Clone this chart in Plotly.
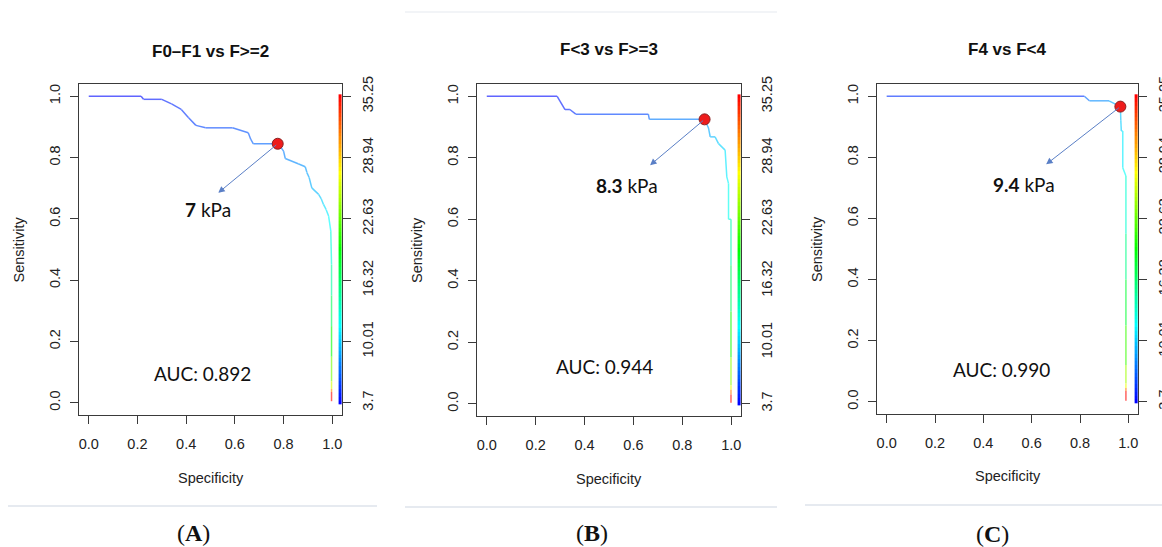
import plotly.graph_objects as go
from plotly.colors import sample_colorscale, unlabel_rgb

# ---------------- data ----------------
titles = ["F0\u2013F1 vs F>=2", "F<3 vs F>=3", "F4 vs F<4"]
panel_labels = ["A", "B", "C"]
auc_values = ["0.892", "0.944", "0.990"]
cutoffs = ["7", "8.3", "9.4"]

# ROC curve A (specificity, sensitivity, threshold kPa)
spec_a = [0.00, 0.215, 0.225, 0.30, 0.34, 0.38, 0.41, 0.44, 0.48, 0.59, 0.655, 0.665, 0.676,
          0.776, 0.785, 0.80, 0.807, 0.86, 0.889, 0.896, 0.905, 0.916, 0.944, 0.955, 0.964,
          0.975, 0.985, 0.994, 0.997, 0.997, 0.997, 0.997, 0.997, 0.997, 0.997, 0.997]
sens_a = [1.000, 1.000, 0.990, 0.990, 0.975, 0.957, 0.930, 0.905, 0.897, 0.897, 0.881, 0.860, 0.845,
          0.845, 0.838, 0.821, 0.797, 0.780, 0.770, 0.751, 0.735, 0.701, 0.680, 0.665, 0.647,
          0.630, 0.609, 0.560, 0.45, 0.35, 0.25, 0.15, 0.07, 0.045, 0.035, 0.005]
thr_a = [3.7, 4.0, 4.2, 4.5, 4.8, 5.0, 5.3, 5.6, 5.8, 6.0, 6.3, 6.5, 6.8,
         7.0, 7.2, 7.5, 7.8, 8.0, 8.3, 8.6, 8.9, 9.2, 9.6, 10.0, 10.4,
         10.8, 11.2, 12.0, 13.5, 15.5, 18.0, 21.0, 25.0, 27.0, 35.0, 35.25]

# ROC curve B
spec_b = [0.00, 0.288, 0.32, 0.34, 0.364, 0.661, 0.665, 0.891, 0.907, 0.914, 0.934, 0.948,
          0.975, 0.982, 0.989, 0.989, 0.999, 0.999, 0.999, 0.999, 0.999, 0.999, 0.999, 0.999]
sens_b = [1.000, 1.000, 0.957, 0.957, 0.942, 0.942, 0.925, 0.925, 0.897, 0.868, 0.868, 0.846,
          0.825, 0.738, 0.716, 0.600, 0.600, 0.45, 0.30, 0.15, 0.06, 0.045, 0.030, 0.003]
thr_b = [3.7, 4.2, 4.6, 4.8, 5.0, 6.5, 6.8, 8.3, 8.8, 9.2, 9.6, 10.0,
         10.5, 11.2, 11.6, 12.5, 13.0, 15.0, 18.0, 22.0, 26.0, 28.0, 35.0, 35.25]

# ROC curve C
spec_c = [0.00, 0.818, 0.839, 0.92, 0.967, 0.969, 0.971, 0.977, 0.977, 0.990,
          0.990, 0.990, 0.990, 0.990, 0.990, 0.990, 0.990, 0.990]
sens_c = [1.000, 1.000, 0.985, 0.985, 0.966, 0.920, 0.886, 0.886, 0.766, 0.739,
          0.55, 0.40, 0.25, 0.12, 0.06, 0.045, 0.035, 0.003]
thr_c = [3.7, 6.5, 7.5, 8.5, 9.4, 9.8, 10.2, 10.6, 11.5, 12.0,
         14.0, 16.5, 19.5, 23.0, 26.0, 28.0, 35.0, 35.25]

# optimal cut-off points (specificity, sensitivity)
best_spec = [0.776, 0.891, 0.967]
best_sens = [0.845, 0.925, 0.966]
# arrow heads (specificity, sensitivity) and cut-off label positions
arrow_spec = [0.532, 0.668, 0.660]
arrow_sens = [0.685, 0.776, 0.777]
label_spec = [0.49, 0.572, 0.570]
label_sens = [0.631, 0.711, 0.711]
auc_spec = [0.469, 0.480, 0.476]
auc_sens = [0.095, 0.121, 0.105]

# colour bar (threshold scale, kPa)
thr_ticks = [3.7, 10.01, 16.32, 22.63, 28.94, 35.25]
thr_min, thr_max = 3.7, 35.25

curves = [(spec_a, sens_a, thr_a), (spec_b, sens_b, thr_b), (spec_c, sens_c, thr_c)]

# ---------------- layout geometry (pixels) ----------------
W, H = 1162, 547
frames_x = [(79, 342), (477, 741), (877, 1138)]
frames_y = [(84, 415), (84, 416), (84, 414)]
title_y = [51, 49, 50]
spec_title_y = [478, 479, 476]
sens_title_x = [18, 417, 817]
label_pos = [(193, 533), (592, 533), (992, 534)]
sep_lines = [(8, 377, 506), (405, 777, 507), (805, 1162, 505)]

RAINBOW = [[0.0, "#0000ff"], [0.25, "#00ffff"], [0.5, "#00ff00"], [0.75, "#ffff00"], [1.0, "#ff0000"]]


def thr_color(t, fade=0.0):
    f = (t - thr_min) / (thr_max - thr_min)
    f = min(max(f, 0.0), 1.0)
    r, g, b = unlabel_rgb(sample_colorscale(RAINBOW, [f])[0])
    r = r * (1 - fade) + 255 * fade
    g = g * (1 - fade) + 255 * fade
    b = b * (1 - fade) + 255 * fade
    return "rgb(%d,%d,%d)" % (r, g, b)


fig = go.Figure()
yr = [-0.04, 1.04]
span = thr_max - thr_min
thr_range = [thr_min + yr[0] * span, thr_min + yr[1] * span]
AXC = "#3a3a3a"
SANS = "Liberation Sans, Arial, sans-serif"
TICKFONT = dict(family=SANS, size=14.5, color="#222")


def paper_text(x, y, text, font, angle=0):
    fig.add_annotation(x=x / W, y=1 - y / H, xref="paper", yref="paper", text=text,
                       showarrow=False, xanchor="center", yanchor="middle",
                       textangle=angle, font=font)


for i in range(3):
    xa = "x" if i == 0 else "x%d" % (i + 1)
    ya = "y" if i == 0 else "y%d" % (i + 1)
    yr_name = "y%d" % (i + 4)
    spec, sens, thr = curves[i]
    # coloured ROC segments
    for k in range(len(spec) - 1):
        tmid = 0.5 * (thr[k] + thr[k + 1])
        fig.add_trace(go.Scatter(
            x=[spec[k], spec[k + 1]], y=[sens[k], sens[k + 1]], mode="lines",
            line=dict(color=thr_color(tmid, 0.38), width=1.5),
            xaxis=xa, yaxis=ya, showlegend=False, hoverinfo="skip"))
    # colour bar
    ys = [j / 80 for j in range(81)]
    zs = [[thr_min + v * span, thr_min + v * span] for v in ys]
    fig.add_trace(go.Heatmap(
        x=[1.029, 1.035], y=ys, z=zs, zmin=thr_min, zmax=thr_max,
        colorscale=RAINBOW, showscale=False, xaxis=xa, yaxis=ya, hoverinfo="skip"))
    # invisible trace on threshold axis
    fig.add_trace(go.Scatter(x=[0.5], y=[thr_min], mode="markers", marker=dict(opacity=0),
                             xaxis=xa, yaxis=yr_name, showlegend=False, hoverinfo="skip"))
    # best point
    fig.add_trace(go.Scatter(
        x=[best_spec[i]], y=[best_sens[i]], mode="markers",
        marker=dict(color="#ee1c1c", size=11, line=dict(color="#8a2020", width=1)),
        xaxis=xa, yaxis=ya, showlegend=False, hoverinfo="skip"))

    x0, x1 = frames_x[i]
    yt, yb = frames_y[i]
    dom_x = [x0 / W, x1 / W]
    dom_y = [1 - yb / H, 1 - yt / H]
    suffix = "" if i == 0 else str(i + 1)
    fig.layout["xaxis" + suffix] = dict(
        domain=dom_x, range=[-0.04, 1.04], anchor=ya,
        tickvals=[0, 0.2, 0.4, 0.6, 0.8, 1.0], tickformat=".1f",
        showgrid=False, zeroline=False, showline=True, mirror=True,
        linecolor=AXC, linewidth=1.2, ticks="outside", ticklen=8, tickcolor=AXC,
        tickfont=TICKFONT, ticklabelstandoff=7)
    fig.layout["yaxis" + suffix] = dict(
        domain=dom_y, range=yr, anchor=xa,
        tickvals=[0, 0.2, 0.4, 0.6, 0.8, 1.0], tickformat=".1f", tickangle=-90,
        showgrid=False, zeroline=False, showline=True, mirror=True,
        linecolor=AXC, linewidth=1.2, ticks="outside", ticklen=8, tickcolor=AXC,
        tickfont=TICKFONT, ticklabelstandoff=4)
    fig.layout["yaxis%d" % (i + 4)] = dict(
        overlaying=ya, anchor=xa, side="right", range=thr_range,
        tickvals=thr_ticks, ticktext=[("%g" % t) for t in thr_ticks], tickangle=-90,
        showgrid=False, zeroline=False, showline=False,
        ticks="outside", ticklen=8, tickcolor=AXC, tickfont=TICKFONT, ticklabelstandoff=5)

    cx = (x0 + x1) / 2
    paper_text(cx, title_y[i], "<b>%s</b>" % titles[i], dict(family=SANS, size=17, color="#111"))
    paper_text(cx, spec_title_y[i], "Specificity", dict(family=SANS, size=14.5, color="#222"))
    paper_text(sens_title_x[i], (yt + yb) / 2, "Sensitivity", dict(family=SANS, size=14.5, color="#222"), -90)
    # arrow
    fig.add_annotation(x=arrow_spec[i], y=arrow_sens[i], ax=best_spec[i], ay=best_sens[i],
                       xref=xa, yref=ya, axref=xa, ayref=ya, text="", showarrow=True,
                       arrowhead=2, arrowsize=1.3, arrowwidth=1, arrowcolor="#5a7fc6", standoff=0)
    # cut-off label
    fig.add_annotation(x=label_spec[i], y=label_sens[i], xref=xa, yref=ya,
                       text="<b>%s</b> kPa" % cutoffs[i], showarrow=False,
                       xanchor="center", yanchor="middle",
                       font=dict(family="Lato, Open Sans, sans-serif", size=19, color="#111"))
    # AUC
    fig.add_annotation(x=auc_spec[i], y=auc_sens[i], xref=xa, yref=ya,
                       text="AUC: %s" % auc_values[i], showarrow=False,
                       xanchor="center", yanchor="middle",
                       font=dict(family="Lato, Open Sans, sans-serif", size=19, color="#111"))
    # panel label
    lx, ly = label_pos[i]
    paper_text(lx, ly, "(<b>%s</b>)" % panel_labels[i],
               dict(family="Liberation Serif, Times New Roman, serif", size=24, color="#111"))
    # separator
    sx0, sx1, sy = sep_lines[i]
    fig.add_shape(type="line", xref="paper", yref="paper", x0=sx0 / W, x1=sx1 / W,
                  y0=1 - sy / H, y1=1 - sy / H, line=dict(color="#e6eaf0", width=2))

fig.add_shape(type="line", xref="paper", yref="paper", x0=405 / W, x1=777 / W,
              y0=1 - 12 / H, y1=1 - 12 / H, line=dict(color="#eef1f5", width=1.5))

fig.update_layout(width=W, height=H, margin=dict(l=0, r=0, t=0, b=0, autoexpand=False),
                  paper_bgcolor="white", plot_bgcolor="white", showlegend=False)

fig.write_html("out.html", config={"displayModeBar": False},
               post_script="document.body.style.margin='0';document.body.style.overflow='hidden';")
